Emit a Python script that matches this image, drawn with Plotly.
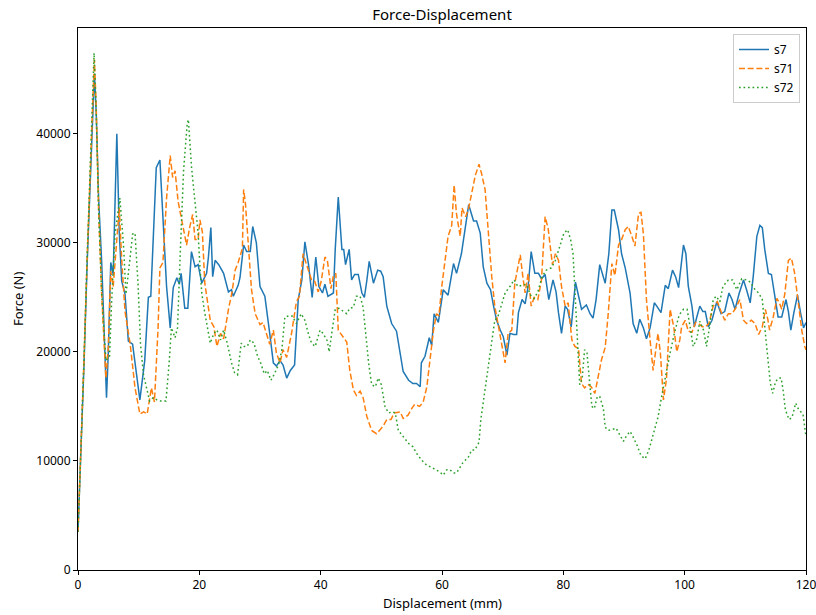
import plotly.graph_objects as go

# ---- data ----
s7_x = [0, 0.5, 1.0, 1.5, 2.0, 2.3, 2.7, 3.0, 3.4, 3.9, 4.3, 4.7, 5.0, 5.4, 5.8, 6.1, 6.4, 6.8, 7.2, 7.75,
        8.3, 9.0, 9.6, 10.2, 11.0, 11.3, 11.6, 12.0, 12.5, 12.9, 13.5, 14.1, 14.6, 15.2, 15.7, 16.3, 16.7, 17.0,
        17.6, 18.1, 18.7, 19.3, 19.8, 20.4, 21.2, 21.5, 21.9, 22.2, 22.6, 23.2, 24.0, 24.8, 25.3, 25.6, 26.4,
        26.7, 27.3, 27.8, 28.4, 28.8, 29.4, 30.0, 30.8, 31.6, 32.2, 32.7, 33.3, 33.8, 34.4, 35.0, 35.7, 36.3,
        36.9, 37.4, 38.0, 38.6, 39.2, 39.7, 40.3, 40.7, 41.2, 42.1, 42.4, 42.9, 43.5, 43.8, 44.1, 44.7, 45.1,
        45.6, 46.2, 46.8, 47.2, 47.6, 48.0, 48.7, 49.4, 49.9, 50.3, 50.9, 51.7, 52.5, 53.1, 53.6, 54.5, 55.2,
        55.8, 56.4, 56.6, 57.2, 57.9, 58.3, 58.7, 59.4, 60.2, 61.0, 61.9, 62.4, 63.2, 63.8, 64.4, 65.2, 65.7,
        66.3, 66.8, 67.4, 68.0, 68.5, 69.0, 69.6, 70.1, 70.7, 71.2, 71.8, 72.3, 72.6, 73.2, 73.7, 74.2, 74.7,
        75.3, 75.9, 76.4, 77.0, 77.6, 78.3, 78.8, 79.2, 79.7, 80.3, 80.7, 81.3, 81.7, 82.0, 82.4, 83.0, 83.8,
        84.4, 84.9, 85.4, 86.0, 86.9, 87.5, 88.0, 88.4, 89.1, 89.6, 90.2, 91.0, 91.5, 92.1, 92.6, 93.2, 93.7,
        94.3, 95.0, 95.4, 96.1, 96.8, 97.3, 98.0, 98.5, 99.0, 99.8, 100.2, 100.6, 101.2, 101.6, 102.0, 102.5,
        103.0, 103.4, 103.9, 104.5, 105.3, 106.0, 106.6, 107.3, 107.8, 108.3, 109.0, 109.7, 110.2, 110.8,
        111.3, 111.9, 112.4, 112.8, 113.2, 113.8, 114.3, 114.9, 115.4, 116.0, 116.7, 117.1, 117.5, 118.0,
        118.6, 119.1, 119.6, 120.0]
s7_y = [3500, 11000, 19000, 28000, 36000, 40500, 45500, 42000, 34000, 28300, 21000, 15800, 20000, 28200, 27100,
        33000, 40000, 31000, 26500, 25300, 21000, 20700, 18000, 15600, 19200, 22000, 25000, 25100, 31000, 36900,
        37600, 31400, 26000, 22200, 25900, 26800, 26200, 27200, 24000, 24000, 29200, 27800, 28000, 26300, 27200,
        28700, 31400, 26900, 28400, 28000, 27200, 25500, 25700, 25100, 26100, 26800, 29800, 29200, 29200, 31500,
        30000, 26000, 25100, 21700, 19000, 18700, 19200, 18800, 17600, 18300, 18800, 24800, 26600, 30100, 28000,
        25000, 28700, 26000, 25400, 26200, 25100, 25400, 29400, 34200, 29400, 29400, 28000, 29400, 26600, 27100,
        27100, 25400, 25000, 26500, 28300, 26300, 27500, 27400, 26900, 24200, 22600, 21900, 19900, 18200, 17400,
        17100, 17100, 16800, 19000, 19600, 21300, 20600, 23500, 22700, 25700, 25200, 28100, 27200, 29000, 31500,
        33500, 32000, 32000, 30900, 27800, 26300, 25700, 24200, 22900, 22000, 21400, 19700, 21700, 21600, 21600,
        23600, 24800, 24400, 26000, 29200, 27200, 27200, 26700, 27100, 24800, 26600, 25500, 23600, 21700, 24200,
        23900, 22300, 24800, 26400, 25400, 23900, 24300, 23500, 23100, 24800, 28000, 26300, 29000, 33000, 33000,
        31200, 29000, 27700, 25400, 22600, 21700, 23000, 22200, 21200, 22200, 24500, 24200, 23600, 26100, 25800,
        27500, 26900, 25900, 29800, 29000, 26000, 24200, 22300, 23200, 24200, 23700, 23700, 22300, 22900, 24600,
        23500, 23700, 25400, 24800, 23900, 25400, 26600, 25700, 24500, 26900, 30600, 31600, 31400, 29400, 27200,
        27100, 24800, 23200, 23200, 24800, 23700, 22000, 23600, 25200, 23600, 22200, 22700]

s71_x = [0, 0.5, 1.0, 1.5, 2.0, 2.3, 2.7, 3.0, 3.4, 3.9, 4.3, 4.6, 5.0, 5.4, 5.8, 6.4, 6.8, 7.2, 7.75, 8.6,
         9.4, 10.2, 10.8, 11.4, 12.1, 12.6, 13.2, 13.5, 14.0, 14.6, 15.2, 15.6, 16.0, 16.5, 17.4, 17.9, 18.4,
         18.9, 19.3, 19.8, 20.1, 20.5, 20.9, 21.8, 22.4, 22.9, 23.5, 24.0, 24.8, 25.4, 25.9, 26.4, 27.1, 27.3,
         27.6, 28.1, 28.6, 29.2, 30.0, 30.5, 31.1, 31.6, 32.2, 32.7, 33.3, 33.8, 34.4, 35.2, 36.0, 36.5, 37.1,
         37.7, 38.5, 39.0, 39.6, 40.1, 40.7, 41.1, 41.7, 42.1, 42.5, 42.9, 43.7, 44.3, 44.8, 45.4, 45.9, 46.5,
         47.0, 47.6, 48.4, 49.2, 49.7, 50.3, 50.9, 51.6, 52.1, 53.1, 53.6, 54.4, 55.0, 55.5, 56.3, 56.9, 57.5,
         58.0, 58.6, 59.1, 59.5, 59.9, 60.5, 61.0, 61.6, 62.0, 62.4, 63.0, 63.3, 63.9, 64.4, 64.9, 65.5, 66.1,
         66.5, 67.1, 67.6, 68.2, 68.7, 69.4, 70.0, 70.4, 70.9, 71.5, 72.0, 72.4, 72.9, 73.3, 73.7, 74.2, 74.7,
         75.2, 75.8, 76.4, 77.0, 77.5, 78.2, 78.7, 79.2, 79.7, 80.3, 80.8, 81.4, 81.9, 82.5, 83.0, 83.5, 84.1,
         84.6, 85.2, 85.7, 86.3, 86.9, 87.4, 88.0, 88.5, 89.1, 89.6, 90.2, 90.7, 91.3, 91.8, 92.4, 92.8, 93.2,
         93.7, 94.3, 94.8, 95.2, 95.6, 96.0, 96.5, 97.0, 97.6, 98.2, 98.7, 99.2, 99.5, 100.1, 100.6, 101.2,
         101.8, 102.3, 102.9, 103.4, 104.0, 104.7, 105.4, 106.0, 106.6, 107.2, 107.8, 108.4, 109.1, 109.7,
         110.2, 111.0, 111.6, 112.2, 112.8, 113.3, 113.7, 114.0, 114.6, 115.2, 115.6, 116.0, 116.5, 117.1,
         117.6, 118.1, 118.8, 119.3, 119.8, 120.0]
s71_y = [3500, 11000, 19500, 28500, 36500, 41000, 46800, 42500, 33000, 25300, 20000, 17600, 20500, 27400, 26000,
         30800, 33200, 28500, 23700, 20700, 16700, 14300, 14500, 14300, 16700, 15400, 22200, 27700, 28200, 34100,
         38000, 36000, 36600, 33800, 31400, 29800, 31400, 32600, 30300, 30300, 32100, 31000, 26300, 22900, 22300,
         20500, 21700, 21200, 23900, 25500, 27500, 28200, 29500, 34900, 33600, 29700, 25700, 23500, 22500, 22700,
         21700, 20700, 22000, 19900, 19000, 20200, 19500, 21700, 24600, 25100, 29000, 28000, 26600, 26500, 25500,
         26500, 28700, 28400, 25800, 27000, 27200, 22000, 21400, 20900, 18300, 16500, 16000, 16400, 15800, 14100,
         12800, 12500, 12800, 13200, 13800, 13800, 14400, 14500, 13900, 14200, 14800, 15200, 15000, 15400, 16800,
         19000, 22000, 23500, 23300, 25700, 28700, 30600, 31600, 35300, 32600, 30600, 33200, 32400, 33200, 34600,
         36200, 37200, 36400, 34900, 30900, 26900, 24200, 22000, 20500, 19000, 21700, 22000, 26300, 27500, 28900,
         27000, 25400, 27200, 24200, 25000, 24800, 26600, 32400, 31300, 28000, 29000, 28400, 26000, 24200, 24500,
         21100, 20500, 20300, 17100, 16700, 17000, 16800, 16200, 17500, 19300, 20400, 23500, 28100, 27000, 29800,
         30300, 31200, 31500, 30600, 29700, 32700, 32800, 30800, 24800, 21100, 18300, 20000, 21700, 19900, 15600,
         17500, 23900, 22300, 20000, 21100, 22300, 22900, 21900, 21800, 22700, 22600, 22300, 22300, 22600, 24200,
         24600, 23700, 22900, 23500, 23500, 24000, 24800, 22900, 22600, 22900, 22600, 21600, 22300, 23900, 23000,
         22000, 23200, 24900, 24500, 23900, 25300, 28400, 28600, 27300, 24200, 22000, 20500, 20200]

s72_x = [0, 0.5, 1.0, 1.5, 2.0, 2.3, 2.65, 3.0, 3.4, 3.9, 4.6, 5.2, 5.5, 6.1, 6.5, 6.9, 7.5, 7.9, 8.5, 9.0,
         9.4, 9.9, 10.3, 10.8, 11.3, 11.8, 12.4, 13.0, 13.6, 14.5, 15.05, 15.4, 16.0, 16.4, 16.8, 17.4, 18.0,
         18.2, 18.7, 19.3, 19.8, 20.1, 20.4, 20.8, 21.2, 21.8, 22.4, 22.9, 23.5, 24.0, 24.6, 25.3, 25.8, 26.3,
         26.9, 27.4, 27.9, 28.4, 29.0, 29.6, 30.1, 30.7, 31.2, 31.8, 32.4, 33.1, 33.6, 34.1, 34.7, 35.3, 36.0,
         36.8, 37.4, 38.0, 38.5, 39.1, 39.9, 40.4, 41.1, 41.4, 41.9, 42.4, 43.0, 43.7, 44.3, 44.8, 45.4, 45.9,
         46.5, 47.0, 47.4, 47.9, 48.4, 49.0, 49.5, 50.0, 50.6, 51.2, 51.8, 52.3, 52.8, 53.6, 54.5, 55.2, 55.8,
         56.6, 57.5, 58.3, 59.1, 59.6, 60.2, 60.8, 61.3, 61.9, 62.4, 62.9, 63.5, 64.3, 64.9, 65.4, 66.1, 66.4,
         67.0, 67.6, 68.2, 68.7, 69.2, 69.8, 70.4, 71.2, 71.9, 72.5, 73.2, 73.9, 74.6, 75.2, 75.8, 76.5, 77.2,
         78.0, 78.7, 79.4, 80.1, 80.7, 81.2, 81.6, 82.0, 82.5, 82.7, 83.1, 83.5, 83.9, 84.4, 84.7, 85.1, 85.6,
         86.0, 86.6, 86.9, 87.4, 88.1, 88.7, 89.3, 89.9, 90.4, 91.0, 91.5, 92.1, 92.8, 93.5, 94.1, 94.8, 95.6,
         96.2, 96.9, 97.6, 98.3, 99.1, 99.8, 100.4, 100.9, 101.4, 102.0, 102.5, 103.1, 103.6, 104.1, 104.7,
         105.2, 105.8, 106.3, 107.2, 107.9, 108.6, 109.4, 110.2, 110.8, 111.6, 112.2, 112.8, 113.2, 113.7,
         114.1, 114.5, 115.0, 115.5, 115.9, 116.2, 116.6, 117.2, 117.7, 118.3, 118.8, 119.5, 120.0]
s72_y = [3500, 11000, 19500, 28500, 37000, 41500, 47400, 42000, 33000, 25300, 19200, 19600, 24000, 30800, 32600,
         34100, 29800, 25300, 28200, 30800, 30900, 26200, 20700, 17900, 16700, 15500, 15800, 15600, 15500, 15500,
         19200, 22200, 21300, 22200, 28300, 36600, 40900, 41300, 37000, 34000, 30900, 27800, 25400, 23900, 22700,
         20800, 21700, 22000, 21100, 22000, 20800, 19000, 18100, 17900, 20800, 20500, 20500, 21100, 20800, 19600,
         19000, 18000, 18300, 17400, 18000, 18900, 20200, 23200, 23300, 23300, 22600, 23500, 22900, 21600, 20800,
         20500, 22000, 21700, 21000, 20000, 22000, 23900, 24000, 23700, 23500, 24000, 24100, 25100, 25100, 24100,
         21700, 19000, 17000, 16800, 17600, 17000, 15000, 14400, 14500, 14400, 12800, 12200, 11600, 11300, 10700,
         10100, 9600, 9400, 9200, 9000, 8700, 9200, 9200, 8900, 8900, 9400, 9900, 10300, 11000, 11000, 11700,
         13800, 16200, 18600, 20800, 22900, 23200, 24200, 25400, 26000, 26600, 26000, 26100, 26200, 25200, 24900,
         25500, 26900, 27500, 27700, 28400, 29700, 30900, 31200, 30300, 29000, 24800, 19900, 17000, 17500, 20200,
         19900, 17200, 15000, 14800, 15900, 15900, 14800, 13100, 12800, 12900, 13000, 12400, 11800, 12300, 12700,
         12200, 11500, 10500, 10200, 11000, 12500, 14000, 15900, 18000, 19900, 21700, 23400, 23900, 23900, 22300,
         20500, 21200, 22800, 22000, 20500, 22300, 24800, 25100, 24600, 26000, 26600, 26600, 25700, 26700, 26600,
         26400, 25700, 25400, 24800, 22300, 19300, 17200, 16200, 17300, 17600, 17600, 16600, 14700, 13800, 14000,
         15300, 14700, 14300, 12200]

x_ticks = [0, 20, 40, 60, 80, 100, 120]
y_ticks = [0, 10000, 20000, 30000, 40000]

FONT = "Noto Sans"

fig = go.Figure()
fig.add_trace(go.Scatter(x=s7_x, y=s7_y, mode="lines", name="s7",
                         line=dict(color="#1f77b4", width=1.5)))
fig.add_trace(go.Scatter(x=s71_x, y=s71_y, mode="lines", name="s71",
                         line=dict(color="#ff7f0e", width=1.5, dash="6px,2.7px")))
fig.add_trace(go.Scatter(x=s72_x, y=s72_y, mode="lines", name="s72",
                         line=dict(color="#2ca02c", width=1.5, dash="1.7px,2.8px")))

axis_common = dict(showline=True, linecolor="black", linewidth=1, mirror=True,
                   ticks="outside", ticklen=4, tickcolor="black", tickwidth=1,
                   showgrid=False, zeroline=False, ticklabeloverflow="allow",
                   automargin=False,
                   tickfont=dict(family=FONT, size=12, color="black"))

fig.update_layout(
    width=816, height=615,
    margin=dict(l=78, r=10, t=28, b=45, autoexpand=False),
    paper_bgcolor="white", plot_bgcolor="white",
    font=dict(family=FONT, size=12, color="black"),
    title=dict(text="Force-Displacement", x=0.5, xref="paper", xanchor="center",
               y=1 - 15 / 615, yref="container", yanchor="middle",
               font=dict(family=FONT, size=15, color="black")),
    xaxis=dict(range=[0, 120], tickvals=x_ticks, **axis_common),
    yaxis=dict(range=[0, 49700], tickvals=y_ticks, tickformat="d", **axis_common),
    legend=dict(x=1 - 6 / 728, y=1 - 6 / 542, xanchor="right", yanchor="top",
                bgcolor="rgba(255,255,255,0.8)", bordercolor="#cccccc", borderwidth=1,
                font=dict(family=FONT, size=12, color="black"), itemwidth=30),
    showlegend=True,
    annotations=[
        dict(text="Displacement (mm)", x=0.5, xref="paper", y=0, yref="paper",
             yshift=-33, xanchor="center", yanchor="middle", showarrow=False,
             font=dict(family=FONT, size=13, color="black")),
        dict(text="Force (N)", x=0, xref="paper", y=0.5, yref="paper",
             xshift=-60, xanchor="center", yanchor="middle", textangle=-90, showarrow=False,
             font=dict(family=FONT, size=13, color="black")),
    ],
)

fig.write_html("out.html")
